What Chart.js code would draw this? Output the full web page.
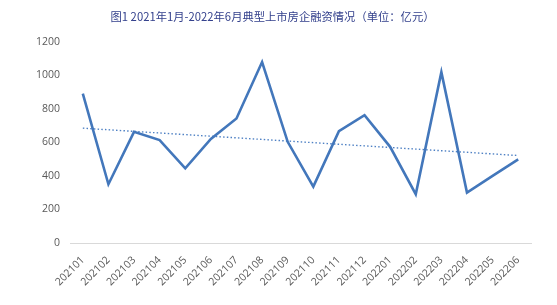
<!DOCTYPE html>
<html><head><meta charset="utf-8">
<script src="https://cdn.jsdelivr.net/npm/chart.js@4"></script>
<style>html,body{margin:0;padding:0;background:#fff}#w{width:557px;height:305px}</style>
</head><body><div id="w"><canvas id="c"></canvas></div>
<script>
const categories = ["202101","202102","202103","202104","202105","202106","202107","202108","202109","202110","202111","202112","202201","202202","202203","202204","202205","202206"];
const financing = [890,350,662,613,445,620,742,1078,603,336,666,761,573,291,1018,300,400,498];
const yTicks = [0,200,400,600,800,1000,1200];
const titleText = "图1 2021年1月-2022年6月典型上市房企融资情况（单位：亿元）";

// linear trendline (least squares) from the series
const n = financing.length;
const mx = (n-1)/2, my = financing.reduce((a,b)=>a+b,0)/n;
let sxy=0,sxx=0;
financing.forEach((v,i)=>{sxy+=(i-mx)*(v-my);sxx+=(i-mx)*(i-mx);});
const slope=sxy/sxx, icpt=my-slope*mx;
const trend = financing.map((v,i)=>icpt+slope*i);

new Chart(document.getElementById('c'),{
  type:'line',
  data:{labels:categories,datasets:[
    {data:financing,borderColor:'#4377bb',borderWidth:2.6,pointRadius:0,tension:0,borderJoinStyle:'miter'},
    {data:trend,borderColor:'#4f81c4',borderWidth:1.4,borderDash:[1.5,2.2],pointRadius:0,tension:0}
  ]},
  options:{
    responsive:true,maintainAspectRatio:false,animation:false,
    layout:{padding:{left:14,right:26,top:0,bottom:0}},
    plugins:{legend:{display:false},tooltip:{enabled:false},
      title:{display:true,text:titleText,color:'#33408c',font:{family:'"Noto Sans CJK SC"',size:11.3,weight:'normal'},padding:{top:10,bottom:18}}},
    scales:{
      x:{offset:true,grid:{display:false,drawTicks:false},border:{display:true,color:'#d9d9d9',width:1},
        ticks:{color:'#595959',font:{family:'"Open Sans"',size:10.5},maxRotation:45,minRotation:45,padding:11,autoSkip:false},
        afterFit(s){s.height=62;}},
      y:{min:0,max:1200,grid:{display:false,drawTicks:false},border:{display:false},
        afterBuildTicks(s){s.ticks=yTicks.map(v=>({value:v}));},
        ticks:{color:'#595959',font:{family:'"Open Sans"',size:10.5},padding:10,callback:v=>String(v)},
        afterFit(s){s.width=56;}}
    }
  }
});
</script></body></html>
